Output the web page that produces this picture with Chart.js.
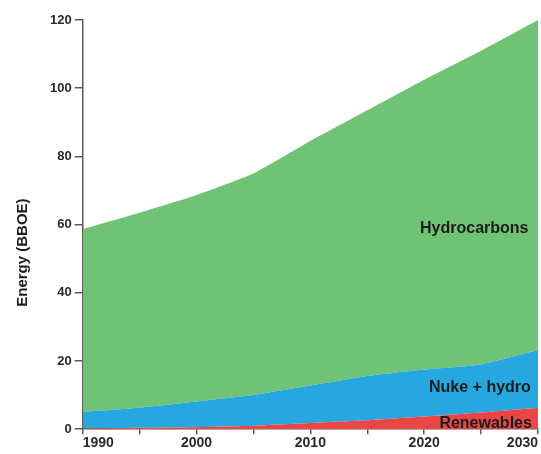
<!DOCTYPE html>
<html lang="en">
<head>
    <meta charset="UTF-8">
    <title>Energy (BBOE)</title>
    <style>
        html, body { margin: 0; padding: 0; background: #fff; }
        #wrap { width: 541px; height: 454px; }
    </style>
</head>
<body>

<div id="wrap">
    <canvas id="myChart"></canvas>
</div>

<script src="https://cdn.jsdelivr.net/npm/chart.js"></script>

<script>
    const years = [1990, 1995, 2000, 2005, 2010, 2015, 2020, 2025, 2030];
    const renewables = [0.2, 0.4, 0.6, 1.0, 1.8, 2.6, 3.7, 4.9, 6.3];
    const nukeHydro = [4.9, 5.9, 7.5, 9.0, 11.0, 13.0, 13.8, 14.1, 16.9];
    const hydrocarbons = [53.6, 57.2, 60.6, 65.0, 71.7, 77.9, 85.0, 92.0, 96.8];
    const yTicks = [0, 20, 40, 60, 80, 100, 120];

    // where the band names sit, in data units [year, value]
    const bandLabels = [
        {text: 'Hydrocarbons', x: 2024.4, y: 58.8},
        {text: 'Nuke + hydro', x: 2024.9, y: 12.3},
        {text: 'Renewables', x: 2025.4, y: 1.5}
    ];

    const toPoints = arr => arr.map((v, i) => ({x: years[i], y: v}));

    const labelPlugin = {
        id: 'bandLabels',
        afterDatasetsDraw(chart) {
            const {ctx, scales: {x, y}, chartArea} = chart;
            ctx.save();
            ctx.fillStyle = '#1c1c1c';
            ctx.font = 'bold 16px Arial, "Liberation Sans", sans-serif';
            ctx.textAlign = 'center';
            ctx.textBaseline = 'middle';
            bandLabels.forEach(l => {
                ctx.fillText(l.text, x.getPixelForValue(l.x), y.getPixelForValue(l.y));
            });
            // y axis title
            ctx.translate(23, (chartArea.top + chartArea.bottom) / 2 + 28);
            ctx.rotate(-Math.PI / 2);
            ctx.font = 'bold 15px Arial, "Liberation Sans", sans-serif';
            ctx.fillText('Energy (BBOE)', 0, 0);
            ctx.restore();
        }
    };

    const config = {
        type: 'line',
        data: {
            datasets: [
                {
                    label: 'Renewables',
                    data: toPoints(renewables),
                    backgroundColor: '#ec4545',
                    borderWidth: 0,
                    fill: 'origin'
                },
                {
                    label: 'Nuke + hydro',
                    data: toPoints(nukeHydro),
                    backgroundColor: '#27a7e0',
                    borderWidth: 0,
                    fill: '-1'
                },
                {
                    label: 'Hydrocarbons',
                    data: toPoints(hydrocarbons),
                    backgroundColor: '#70c274',
                    borderWidth: 0,
                    fill: '-1'
                }
            ]
        },
        options: {
            responsive: true,
            maintainAspectRatio: false,
            animation: false,
            layout: {
                padding: {left: 47, top: 20, right: 3, bottom: 1}
            },
            elements: {
                point: {radius: 0},
                line: {tension: 0.15}
            },
            scales: {
                x: {
                    type: 'linear',
                    min: years[0],
                    max: years[years.length - 1],
                    border: {color: '#5a5a5a', width: 1.5},
                    grid: {display: true, drawOnChartArea: false, drawTicks: true, tickLength: 5, color: '#5a5a5a', lineWidth: 1.5},
                    ticks: {
                        stepSize: 5,
                        align: 'inner',
                        padding: 1,
                        color: '#2a2a2a',
                        font: {family: 'Arial, "Liberation Sans", sans-serif', size: 14, weight: 'bold'},
                        callback: v => (v % 10 === 0 ? String(v) : '')
                    }
                },
                y: {
                    stacked: true,
                    min: yTicks[0],
                    max: yTicks[yTicks.length - 1],
                    border: {color: '#5a5a5a', width: 1.5},
                    grid: {display: true, drawOnChartArea: false, drawTicks: true, tickLength: 8, color: '#5a5a5a', lineWidth: 1.5},
                    ticks: {
                        stepSize: 20,
                        padding: 3,
                        color: '#2a2a2a',
                        font: {family: 'Arial, "Liberation Sans", sans-serif', size: 13, weight: 'bold'}
                    }
                }
            },
            plugins: {
                legend: {display: false},
                tooltip: {enabled: false},
                filler: {propagate: false}
            }
        },
        plugins: [labelPlugin]
    };

    new Chart(document.getElementById('myChart'), config);
</script>

</body>
</html>
